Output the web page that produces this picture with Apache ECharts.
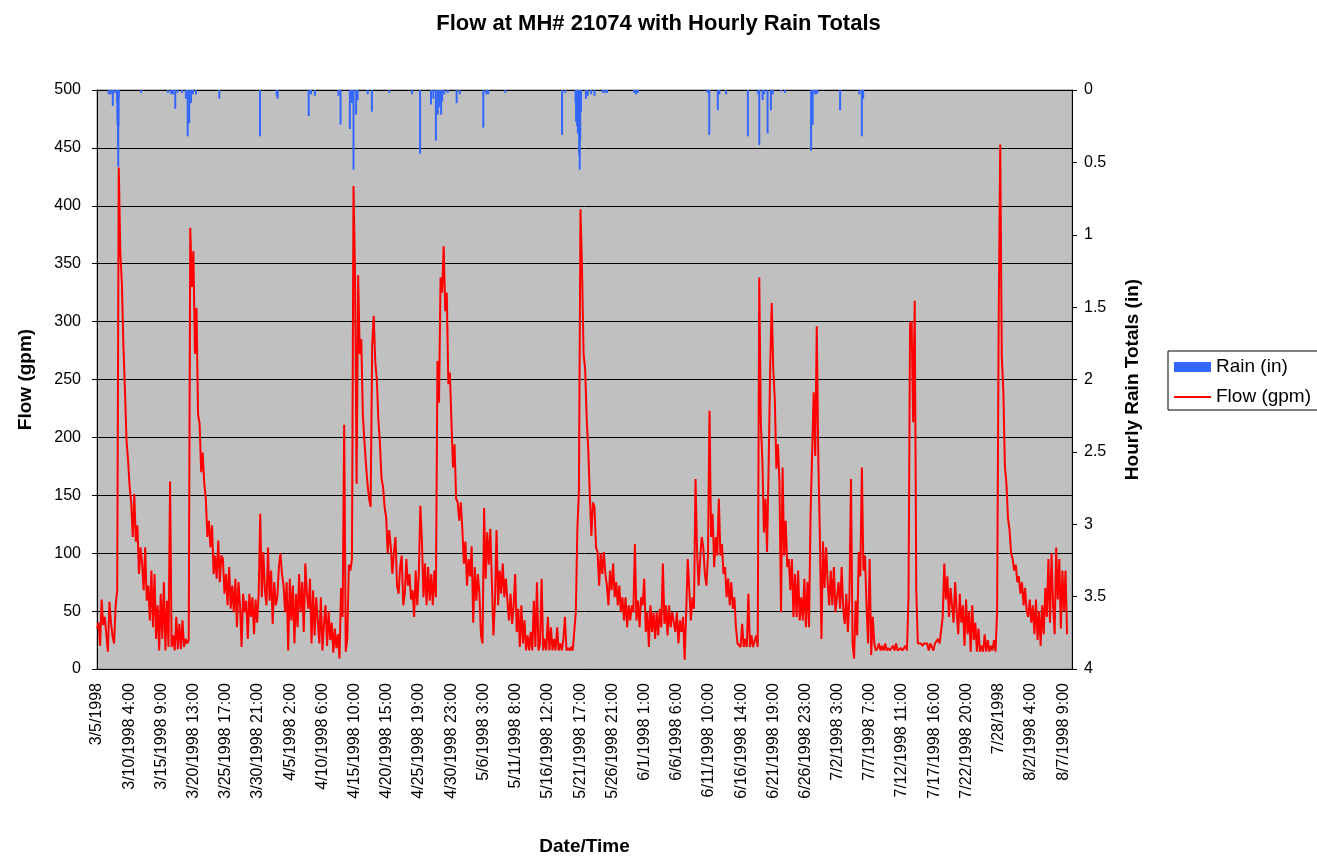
<!DOCTYPE html>
<html>
<head>
<meta charset="utf-8">
<title>Flow at MH# 21074 with Hourly Rain Totals</title>
<script src="https://cdn.jsdelivr.net/npm/echarts@6/dist/echarts.min.js"></script>
<style>
  html, body { margin: 0; padding: 0; background: #fff; }
  #chart { width: 1317px; height: 861px; }
</style>
</head>
<body>
<div id="chart"></div>
<script>
// ---- data -------------------------------------------------------------
const TITLE = 'Flow at MH# 21074 with Hourly Rain Totals';

// hourly record: 3/5/1998 0:00 onward
const START_UTC = Date.UTC(1998, 2, 5, 0, 0);
const RECORD_HOURS = 3764;

// flow readings (gpm), one every 6 hours from the start of the record
const FLOW_STEP_HOURS = 6;
const FLOW_GPM = [
  35, 40, 20, 60, 38, 45, 30, 15, 58, 40, 28, 22,
  55, 68, 433, 360, 333, 279, 240, 197, 180,
  157, 144, 114, 151, 110, 124, 82, 105, 91,
  68, 105, 59, 72, 42, 85, 36, 82, 26, 55,
  16, 65, 26, 75, 16, 59, 19, 162, 19, 29,
  16, 45, 17, 39, 17, 42, 19, 26, 22, 25,
  381, 330, 361, 272, 312, 220, 212, 170, 187, 160,
  147, 114, 128, 105, 124, 82, 98, 78, 111, 75, 98,
  95, 65, 82, 55, 88, 52, 72, 49, 78,
  36, 75, 55, 19, 65, 49, 59, 26, 65, 45,
  62, 30, 60, 40, 65, 134, 62, 101, 68, 55,
  105, 59, 85, 39, 75, 55, 62, 88, 100, 82,
  72, 49, 75, 16, 78, 42, 72, 22, 65, 36,
  82, 49, 75, 32, 91, 65, 52, 78, 22, 68,
  29, 62, 42, 22, 62, 16, 39, 55, 20,
  50, 25, 40, 14, 35, 18, 30, 9,
  70, 45, 211, 15, 26, 90, 85, 95, 417,
  338, 160, 340, 272, 285, 220, 197, 177, 160, 147, 140,
  279, 305, 265, 250, 215, 195, 165, 157, 140, 131,
  100, 120, 105, 82, 101, 114, 72, 65, 88, 98,
  55, 65, 95, 72, 82, 60, 68, 45, 85, 55, 82,
  141, 111, 62, 91, 55, 88, 59, 82, 55, 85, 62,
  266, 230, 338, 325, 365, 309, 325, 246, 256, 213, 174, 194, 147, 144, 128, 144,
  121, 91, 110, 72, 95, 80, 106, 40, 88, 59, 82, 65, 29, 22,
  139, 78, 118, 90, 121, 75, 29, 59, 120, 55, 85,
  65, 91, 62, 78, 59, 42, 65, 39, 55, 82, 32, 52,
  19, 55, 22, 42, 16, 29, 16, 32, 16, 59, 19, 75, 16, 22,
  78, 16, 26, 16, 45, 16, 36, 16, 26, 16, 36, 16, 22, 16, 26,
  45, 16, 18, 16, 19, 16, 16, 49, 121, 154,
  397, 345, 272, 259, 216, 190, 150, 115, 144, 140,
  105, 101, 72, 100, 82, 101, 82, 72, 55, 85,
  68, 91, 62, 75, 55, 72, 49, 62, 42, 62,
  36, 55, 42, 55, 49, 108, 42, 59, 36, 62,
  55, 78, 32, 49, 19, 55, 32, 49, 26, 49,
  29, 52, 36, 91, 39, 55, 29, 55, 36, 49,
  49, 32, 49, 22, 42, 32, 45, 8, 49,
  95, 68, 42, 62, 52, 164, 101, 72, 95,
  114, 105, 82, 72, 98, 223, 114, 134, 88, 114,
  98, 147, 98, 108, 82, 88, 62, 78, 55, 75,
  52, 62, 36, 22, 22, 19, 39, 19, 26, 19,
  65, 19, 29, 19, 19, 29, 19,
  338, 213, 180, 118, 147, 101, 173, 259, 316, 259,
  233, 173, 194, 161, 49, 174, 98, 128, 88, 95,
  68, 95, 45, 82, 45, 85, 42, 62, 42, 78,
  36, 75, 36, 134, 134, 239, 184, 296, 180, 114, 26,
  110, 70, 105, 75, 55, 85, 55, 88, 49, 49,
  75, 52, 88, 52, 39, 65, 32, 62,
  164, 22, 9, 59, 29, 101, 80, 174, 85, 98, 55, 22, 95, 12, 45, 22,
  16, 18, 22, 16, 20, 16, 22, 16, 18, 16, 16, 20, 16, 22, 16, 16, 18, 16, 16, 20, 16,
  62, 298, 300, 213, 318, 68, 22,
  22, 22, 20, 22, 22, 22, 16, 22, 22, 16, 22, 22, 26, 22, 22,
  45,
  91, 60, 80, 45, 70, 55, 40, 75, 50, 30, 65, 40, 55, 20, 60, 30, 50, 15, 55, 25,
  40, 15, 35, 15, 20, 15, 30, 15, 25, 15, 20, 16, 25, 15,
  50, 300, 453, 270, 240, 175, 160, 130, 120, 100, 95, 85, 90, 75, 80, 65, 75, 55, 70, 50,
  45, 60, 40, 55, 30, 60, 25, 50, 20, 55, 30, 70, 45, 95, 40, 100, 55, 30, 105,
  60, 95, 35, 85, 50, 85, 30
];

// hourly rain totals (in)
const RAIN_TIMES = [
  '3/6/1998 21:00', '3/7/1998 5:00', '3/7/1998 13:00', '3/7/1998 19:00', '3/8/1998 4:00',
  '3/8/1998 6:00', '3/8/1998 7:00', '3/8/1998 8:00', '3/8/1998 9:00', '3/8/1998 10:00',
  '3/8/1998 11:00', '3/8/1998 12:00', '3/12/1998 2:00', '3/16/1998 10:00', '3/16/1998 22:00',
  '3/17/1998 5:00', '3/17/1998 14:00', '3/17/1998 23:00', '3/18/1998 16:00', '3/19/1998 7:00',
  '3/19/1998 14:00', '3/19/1998 20:00', '3/20/1998 3:00', '3/20/1998 10:00', '3/20/1998 22:00',
  '3/24/1998 16:00', '3/31/1998 5:00', '4/2/1998 22:00', '4/3/1998 1:00', '4/8/1998 1:00',
  '4/8/1998 10:00', '4/9/1998 1:00', '4/12/1998 20:00', '4/13/1998 4:00', '4/14/1998 16:00',
  '4/15/1998', '4/15/1998 6:00', '4/15/1998 16:00', '4/15/1998 22:00', '4/17/1998 13:00',
  '4/18/1998 5:00', '4/21/1998', '4/24/1998 16:00', '4/25/1998 23:00', '4/27/1998 17:00',
  '4/28/1998 2:00', '4/28/1998 12:00', '4/28/1998 19:00', '4/29/1998 1:00', '4/29/1998 8:00',
  '4/29/1998 12:00', '4/29/1998 20:00', '4/30/1998 10:00', '5/1/1998 20:00', '5/2/1998 8:00',
  '5/6/1998 3:00', '5/6/1998 14:00', '5/6/1998 22:00', '5/9/1998 16:00', '5/18/1998 19:00',
  '5/19/1998 7:00', '5/20/1998 23:00', '5/21/1998 1:00', '5/21/1998 3:00', '5/21/1998 5:00',
  '5/21/1998 8:00', '5/21/1998 11:00', '5/21/1998 13:00', '5/21/1998 15:00', '5/21/1998 17:00',
  '5/21/1998 20:00', '5/22/1998 15:00', '5/22/1998 22:00', '5/23/1998 11:00', '5/24/1998',
  '5/25/1998 8:00', '5/25/1998 18:00', '5/26/1998 1:00', '5/30/1998 9:00', '5/30/1998 16:00',
  '5/31/1998', '6/11/1998 5:00', '6/11/1998 11:00', '6/12/1998 20:00', '6/13/1998 2:00',
  '6/14/1998 4:00', '6/17/1998 16:00', '6/19/1998 8:00', '6/19/1998 12:00', '6/20/1998 1:00',
  '6/20/1998 7:00', '6/20/1998 20:00', '6/21/1998 9:00', '6/21/1998 16:00', '6/23/1998',
  '6/23/1998 15:00', '6/27/1998 20:00', '6/28/1998 2:00', '6/28/1998 9:00', '6/28/1998 15:00',
  '6/28/1998 21:00', '7/2/1998 12:00', '7/5/1998 14:00', '7/6/1998', '7/6/1998 5:00'
];
const RAIN_IN = [
  0.03, 0.03, 0.11, 0.02, 0.03,
  0.08, 0.24, 0.20, 0.38, 0.53,
  0.25, 0.05, 0.02, 0.02, 0.03,
  0.03, 0.13, 0.02, 0.02, 0.06,
  0.32, 0.23, 0.09, 0.03, 0.03,
  0.06, 0.32, 0.04, 0.06, 0.18,
  0.03, 0.04, 0.04, 0.24, 0.27,
  0.09, 0.55, 0.17, 0.07, 0.03,
  0.15, 0.02, 0.03, 0.44, 0.10,
  0.06, 0.35, 0.17, 0.12, 0.17,
  0.08, 0.03, 0.02, 0.09, 0.03,
  0.26, 0.03, 0.03, 0.02, 0.31,
  0.02, 0.09, 0.22, 0.20, 0.25,
  0.30, 0.30, 0.45, 0.55, 0.35,
  0.15, 0.06, 0.04, 0.03, 0.04,
  0.02, 0.02, 0.02, 0.02, 0.03,
  0.02, 0.02, 0.31, 0.14, 0.03,
  0.03, 0.32, 0.03, 0.38, 0.07,
  0.03, 0.30, 0.14, 0.03, 0.01,
  0.02, 0.42, 0.24, 0.03, 0.03,
  0.02, 0.14, 0.03, 0.32, 0.06
];

// category labels printed along the time axis
const TICK_LABELS = [
  '3/5/1998', '3/10/1998 4:00', '3/15/1998 9:00', '3/20/1998 13:00', '3/25/1998 17:00',
  '3/30/1998 21:00', '4/5/1998 2:00', '4/10/1998 6:00', '4/15/1998 10:00', '4/20/1998 15:00',
  '4/25/1998 19:00', '4/30/1998 23:00', '5/6/1998 3:00', '5/11/1998 8:00', '5/16/1998 12:00',
  '5/21/1998 17:00', '5/26/1998 21:00', '6/1/1998 1:00', '6/6/1998 6:00', '6/11/1998 10:00',
  '6/16/1998 14:00', '6/21/1998 19:00', '6/26/1998 23:00', '7/2/1998 3:00', '7/7/1998 7:00',
  '7/12/1998 11:00', '7/17/1998 16:00', '7/22/1998 20:00', '7/28/1998', '8/2/1998 4:00',
  '8/7/1998 9:00'
];

// ---- build the hourly category axis ---------------------------------
function stampLabel(ms) {
  const d = new Date(ms);
  const day = (d.getUTCMonth() + 1) + '/' + d.getUTCDate() + '/' + d.getUTCFullYear();
  const hr = d.getUTCHours();
  return hr ? day + ' ' + hr + ':00' : day;
}
const CATEGORIES = [];
for (let h = 0; h < RECORD_HOURS; h++) CATEGORIES.push(stampLabel(START_UTC + h * 3600000));
const CATEGORY_INDEX = new Map(CATEGORIES.map((c, i) => [c, i]));
const TICK_SET = new Set(TICK_LABELS);

const flowData = FLOW_GPM.map((v, i) => [i * FLOW_STEP_HOURS, v]);
const rainData = RAIN_TIMES.map((t, i) => [CATEGORY_INDEX.get(t), RAIN_IN[i]]);

// ---- chart ------------------------------------------------------------
const FONT = '"Liberation Sans", Arial, sans-serif';
const AXIS_TITLE = { fontFamily: FONT, fontSize: 19, fontWeight: 'bold', color: '#000' };
const chart = echarts.init(document.getElementById('chart'), null, { renderer: 'canvas' });

chart.setOption({
  animation: false,
  backgroundColor: '#ffffff',
  textStyle: { fontFamily: FONT, color: '#000' },
  title: {
    text: TITLE,
    left: 'center',
    top: 8,
    textStyle: { fontFamily: FONT, fontSize: 22, fontWeight: 'bold', color: '#000' }
  },
  legend: {
    orient: 'vertical',
    left: 1168,
    top: 351,
    padding: [6, 60, 3, 5],
    itemWidth: 37,
    itemHeight: 10,
    itemGap: 10,
    backgroundColor: '#ffffff',
    borderColor: '#000000',
    borderWidth: 1,
    borderRadius: 0,
    textStyle: { fontFamily: FONT, fontSize: 19, lineHeight: 20, color: '#000' },
    data: [
      { name: 'Rain (in)', icon: 'rect' },
      { name: 'Flow (gpm)', itemStyle: { opacity: 0, borderWidth: 0 } }
    ]
  },
  grid: {
    left: 97,
    right: 245,
    top: 90,
    bottom: 189,
    show: true,
    backgroundColor: '#C0C0C0',
    borderColor: '#808080',
    borderWidth: 1
  },
  xAxis: {
    type: 'category',
    data: CATEGORIES,
    boundaryGap: false,
    name: 'Date/Time',
    nameLocation: 'middle',
    nameGap: 168,
    nameTextStyle: AXIS_TITLE,
    axisLine: { show: true, lineStyle: { color: '#000', width: 1 } },
    axisTick: { show: false },
    axisLabel: {
      interval: (idx, val) => TICK_SET.has(val),
      rotate: 90,
      margin: 14,
      fontFamily: FONT,
      fontSize: 16,
      color: '#000'
    },
    splitLine: { show: false }
  },
  yAxis: [
    {
      type: 'value',
      min: 0,
      max: 500,
      interval: 50,
      name: 'Flow (gpm)',
      nameLocation: 'middle',
      nameRotate: 90,
      nameGap: 62,
      nameTextStyle: AXIS_TITLE,
      axisLine: { show: true, lineStyle: { color: '#000', width: 1 } },
      axisTick: { show: true, length: 5, lineStyle: { color: '#000' } },
      axisLabel: { fontFamily: FONT, fontSize: 16, color: '#000', margin: 16 },
      splitLine: { show: true, lineStyle: { color: '#000', width: 1 } }
    },
    {
      type: 'value',
      position: 'right',
      inverse: true,
      min: 0,
      max: 4,
      interval: 0.5,
      name: 'Hourly Rain Totals (in)',
      nameLocation: 'middle',
      nameRotate: 90,
      nameGap: 51,
      nameTextStyle: AXIS_TITLE,
      axisLine: { show: true, lineStyle: { color: '#000', width: 1 } },
      axisTick: { show: true, length: 5, lineStyle: { color: '#000' } },
      axisLabel: { fontFamily: FONT, fontSize: 16, color: '#000', margin: 12 },
      splitLine: { show: false }
    }
  ],
  series: [
    {
      name: 'Rain (in)',
      type: 'bar',
      yAxisIndex: 1,
      data: rainData,
      barWidth: 2,
      itemStyle: { color: '#3366FF' },
      z: 2
    },
    {
      name: 'Flow (gpm)',
      type: 'line',
      yAxisIndex: 0,
      data: flowData,
      symbol: 'none',
      showSymbol: false,
      lineStyle: { color: '#FF0000', width: 2 },
      itemStyle: { color: '#FF0000' },
      z: 3
    }
  ]
});
</script>
</body>
</html>
